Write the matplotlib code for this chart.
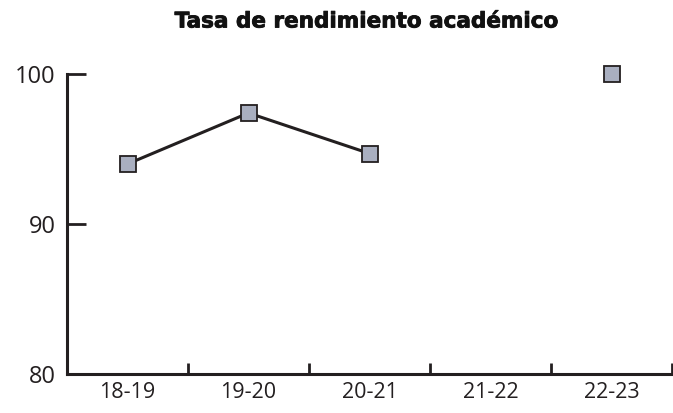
import matplotlib.pyplot as plt
import matplotlib.patheffects as pe
import numpy as np

cursos = ["18-19", "19-20", "20-21", "21-22", "22-23"]
tasa = [94.0, 97.4, 94.7, np.nan, 100.0]
yticks = [80, 90, 100]

plt.rcParams['font.family'] = ['Open Sans', 'DejaVu Sans']

fig = plt.figure(figsize=(6.73, 4.13), dpi=100)
ax = fig.add_axes([67 / 673, 1 - 374 / 413, 605 / 673, 300 / 413])

x = np.arange(len(cursos))
ax.plot(x, tasa, color='#231f20', lw=2.2, marker='s', markersize=11,
        markerfacecolor='#a9afc0', markeredgecolor='#231f20',
        markeredgewidth=1.3, clip_on=False, zorder=3)

ax.set_xlim(-0.5, len(cursos) - 0.5)
ax.set_ylim(80, 100)
ax.set_yticks(yticks)
ax.set_yticklabels([str(v) for v in yticks], fontsize=17, color='#231f20')

ax.set_xticks(x)
ax.set_xticklabels(cursos, fontsize=15.5, color='#231f20')
ax.set_xticks(np.arange(0.5, len(cursos) - 0.5 + 0.01, 1), minor=True)
ax.tick_params(axis='x', which='major', length=0, pad=6)
ax.tick_params(axis='x', which='minor', length=8, width=2, direction='in',
               color='#231f20')
ax.tick_params(axis='y', length=14, width=2, direction='in', color='#231f20', pad=8)

for s in ['top', 'right']:
    ax.spines[s].set_visible(False)
for s in ['left', 'bottom']:
    ax.spines[s].set_linewidth(2.2)
    ax.spines[s].set_color('#231f20')

fig.text(0.544, 0.948, "Tasa de rendimiento académico", ha='center', va='center',
         fontsize=15.5, fontweight='bold', color='#111111',
         family=['DejaVu Sans'],
         path_effects=[pe.withStroke(linewidth=0.6, foreground='#111111')])

fig.savefig('out.png', dpi=100)
